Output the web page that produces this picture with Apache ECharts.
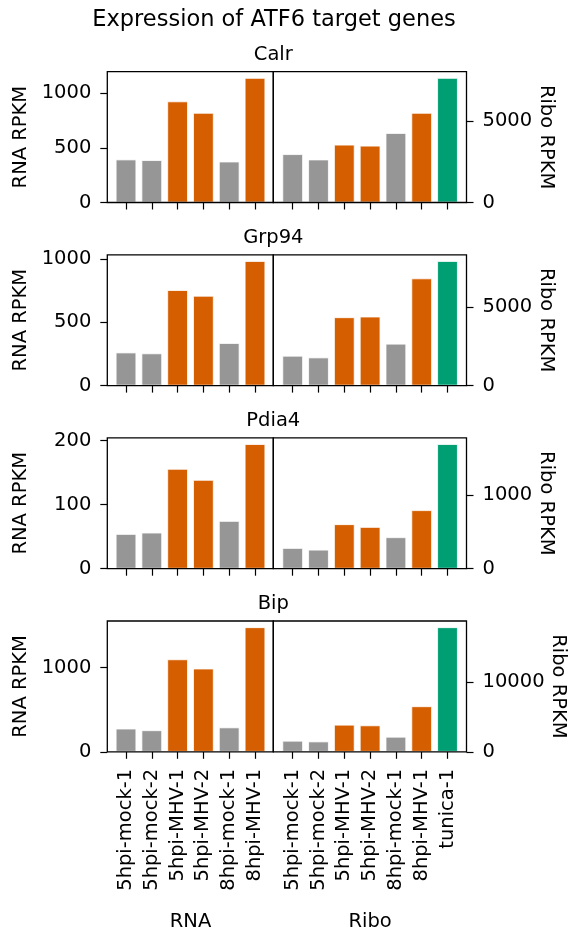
<!DOCTYPE html>
<html>
<head>
<meta charset="utf-8">
<script src="https://cdn.jsdelivr.net/npm/echarts@6/dist/echarts.min.js"></script>
<style>
  html, body { margin: 0; padding: 0; background: #fff; }
  #chart { width: 574px; height: 940px; }
</style>
</head>
<body>
<div id="chart"></div>
<script>
// ---------------- data ----------------
const rnaSamples = ['5hpi-mock-1', '5hpi-mock-2', '5hpi-MHV-1', '5hpi-MHV-2', '8hpi-mock-1', '8hpi-MHV-1'];
const riboSamples = ['5hpi-mock-1', '5hpi-mock-2', '5hpi-MHV-1', '5hpi-MHV-2', '8hpi-mock-1', '8hpi-MHV-1', 'tunica-1'];
const genes = ['Calr', 'Grp94', 'Pdia4', 'Bip'];

const rnaCalr  = [394, 388, 926, 821, 375, 1141];
const riboCalr = [2963, 2636, 3543, 3481, 4259, 5494, 7636];
const rnaGrp94  = [262, 255, 756, 711, 337, 986];
const riboGrp94 = [1894, 1786, 4337, 4381, 2659, 6805, 7908];
const rnaPdia4  = [54.2, 56.3, 155.8, 138.6, 74.5, 194.4];
const riboPdia4 = [282, 259, 605, 568, 428, 796, 1695];
const rnaBip  = [276, 256, 1100, 990, 290, 1482];
const riboBip = [1577, 1477, 3869, 3775, 2149, 6504, 17800];

const rnaTicksCalr = [0, 500, 1000];
const riboTicksCalr = [0, 5000];
const rnaTicksGrp94 = [0, 500, 1000];
const riboTicksGrp94 = [0, 5000];
const rnaTicksPdia4 = [0, 100, 200];
const riboTicksPdia4 = [0, 1000];
const rnaTicksBip = [0, 1000];
const riboTicksBip = [0, 10000];

const title = 'Expression of ATF6 target genes';
const rnaPanelName = 'RNA';
const riboPanelName = 'Ribo';
const rnaAxisName = 'RNA RPKM';
const riboAxisName = 'Ribo RPKM';

// ---------------- styling / layout ----------------
const FONT = 'DejaVu Sans';
const GRAY = '#969696', ORANGE = '#D55E00', GREEN = '#009E73';
function colorFor(name) {
  if (name.indexOf('tunica') >= 0) return GREEN;
  if (name.indexOf('MHV') >= 0) return ORANGE;
  return GRAY;
}

const rnaRows = [rnaCalr, rnaGrp94, rnaPdia4, rnaBip];
const riboRows = [riboCalr, riboGrp94, riboPdia4, riboBip];
const rnaTickRows = [rnaTicksCalr, rnaTicksGrp94, rnaTicksPdia4, rnaTicksBip];
const riboTickRows = [riboTicksCalr, riboTicksGrp94, riboTicksPdia4, riboTicksBip];

const rowTop = [71.7, 254.8, 437.9, 621.0];
const rowH = 130.8;
const frameL = 107.3, frameM = 273.3, frameR = 466.5;
const band = 25.8;
const leftGridX = 113.1, leftGridW = band * 6;
const rightGridX = 279.8, rightGridW = band * 7;
const tickLen = 7;
const textColor = '#000';

const grids = [], xAxes = [], yAxes = [], series = [], titles = [], graphics = [];

titles.push({
  text: title, left: 274, top: 8.5, textAlign: 'center', padding: 0,
  textStyle: { fontFamily: FONT, fontSize: 22.5, fontWeight: 'normal', color: textColor }
});

for (let r = 0; r < 4; r++) {
  const last = r === 3;
  titles.push({
    text: genes[r], left: frameM, top: rowTop[r] - 26.8, textAlign: 'center', padding: 0,
    textStyle: { fontFamily: FONT, fontSize: 19.5, fontWeight: 'normal', color: textColor }
  });

  const panels = [
    { x: leftGridX, w: leftGridW, cats: rnaSamples, vals: rnaRows[r], ticks: rnaTickRows[r],
      pos: 'left', off: leftGridX - frameL, axisName: rnaAxisName, panelName: rnaPanelName, rot: 90, gap: 76 },
    { x: rightGridX, w: rightGridW, cats: riboSamples, vals: riboRows[r], ticks: riboTickRows[r],
      pos: 'right', off: frameR - (rightGridX + rightGridW), axisName: riboAxisName, panelName: riboPanelName, rot: -90, gap: 70 }
  ];

  panels.forEach(function (p) {
    const gi = grids.length;
    grids.push({ left: p.x, top: rowTop[r], width: p.w, height: rowH, containLabel: false });
    xAxes.push({
      gridIndex: gi, type: 'category', data: p.cats,
      axisLine: { show: false },
      axisTick: { show: true, alignWithLabel: true, interval: 0, length: tickLen, lineStyle: { color: '#000', width: 1.2 } },
      axisLabel: { show: last, interval: 0, rotate: 90, margin: 17, fontFamily: FONT, fontSize: 19.5, color: textColor },
      name: last ? p.panelName : '', nameLocation: 'middle', nameGap: 160,
      nameTextStyle: { fontFamily: FONT, fontSize: 19.5, color: textColor },
      splitLine: { show: false }
    });
    yAxes.push({
      gridIndex: gi, type: 'value', min: 0, max: function (v) { return v.max * 1.05; },
      position: p.pos, offset: p.off,
      axisLine: { show: false },
      axisTick: { show: true, length: tickLen, customValues: p.ticks, lineStyle: { color: '#000', width: 1.2 } },
      axisLabel: { customValues: p.ticks, margin: 16, fontFamily: FONT, fontSize: 19.5, color: textColor,
                   formatter: function (v) { return String(v); } },
      splitLine: { show: false },
      name: p.axisName, nameLocation: 'middle', nameGap: p.gap, nameRotate: p.rot,
      nameTextStyle: { fontFamily: FONT, fontSize: 19.5, color: textColor }
    });
    series.push({
      type: 'bar', xAxisIndex: gi, yAxisIndex: gi, barWidth: '80%',
      data: p.vals.map(function (v, i) {
        return { value: v, itemStyle: { color: colorFor(p.cats[i]) } };
      }),
      itemStyle: { borderColor: '#fff', borderWidth: 0.8 },
      silent: true
    });
  });

  graphics.push({
    type: 'rect', z: 100,
    shape: { x: frameL, y: rowTop[r], width: frameM - frameL, height: rowH },
    style: { fill: 'none', stroke: '#000', lineWidth: 1.3 }
  });
  graphics.push({
    type: 'rect', z: 100,
    shape: { x: frameM, y: rowTop[r], width: frameR - frameM, height: rowH },
    style: { fill: 'none', stroke: '#000', lineWidth: 1.3 }
  });
}

const chart = echarts.init(document.getElementById('chart'), null, { renderer: 'canvas' });
chart.setOption({
  animation: false,
  backgroundColor: '#fff',
  title: titles,
  grid: grids,
  xAxis: xAxes,
  yAxis: yAxes,
  series: series,
  graphic: graphics
});
</script>
</body>
</html>
